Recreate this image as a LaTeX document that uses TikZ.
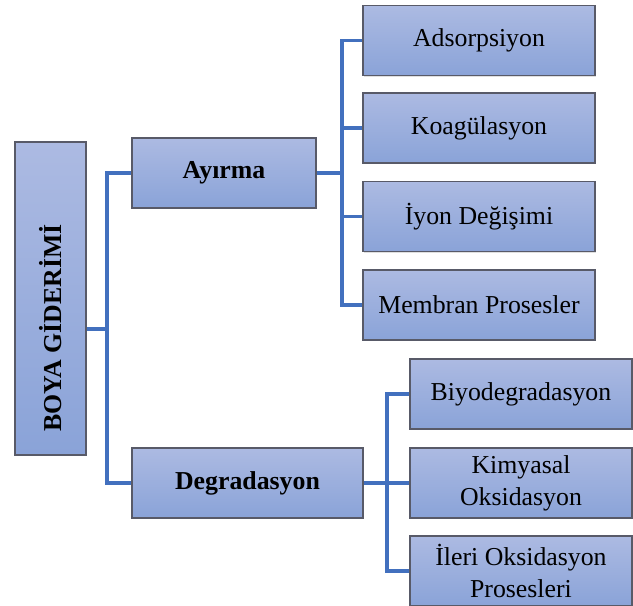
\documentclass[tikz,border=0pt]{standalone}
\usepackage{fontspec}
\setmainfont{Liberation Serif}
\usetikzlibrary{shadows}
\definecolor{boxtop}{RGB}{172,186,226}
\definecolor{boxbot}{RGB}{138,163,216}
\definecolor{edge}{RGB}{88,90,104}
\definecolor{link}{RGB}{66,112,190}

\begin{document}
\begin{tikzpicture}[x=.5pt,y=-.5pt,
  box/.style={draw=edge,line width=.75pt,top color=boxtop,bottom color=boxbot,
    drop shadow={shadow xshift=.7pt,shadow yshift=-.7pt,opacity=.25},
    font=\fontsize{12.9}{16}\selectfont,align=center,inner sep=0pt},
  wire/.style={draw=link,line width=1.6pt}]
\useasboundingbox (0,0) rectangle (633,606);
% main
\node[box,minimum width=35.5pt,minimum height=156.5pt] (boya) at (50.5,298.5) {};
\node[rotate=90,font=\fontsize{12.9}{16}\selectfont\bfseries] (boyatxt) at (50.5,328) {BOYA GİDERİMİ};
\node[box,minimum width=92pt,minimum height=35pt] (ayirma) at (224,173) {\bfseries Ayırma};
\node[box,minimum width=115.5pt,minimum height=35pt] (degr) at (247.5,483) {\bfseries Degradasyon};
% ayirma branch
\node[box,minimum width=116pt,minimum height=35pt] (ads) at (479,40.5) {Adsorpsiyon};
\node[box,minimum width=116pt,minimum height=35pt] (koag) at (479,128) {Koagülasyon};
\node[box,minimum width=116pt,minimum height=35pt] (iyon) at (479,216.5) {İyon Değişimi};
\node[box,minimum width=116pt,minimum height=35pt] (memb) at (479,305) {Membran Prosesler};
% degradasyon branch
\node[box,minimum width=111pt,minimum height=35pt] (biyo) at (521,394) {Biyodegradasyon};
\node[box,minimum width=111pt,minimum height=35pt] (kimy) at (521,483) {Kimyasal\\Oksidasyon};
\node[box,minimum width=111pt,minimum height=35pt] (ileri) at (521,571) {İleri Oksidasyon\\Prosesleri};
% connectors
\coordinate (bj) at (107,329);
\coordinate (aj) at (342,173);
\coordinate (dj) at (387,483);
\draw[wire] (boya.east |- bj) -- (bj);
\draw[wire] (ayirma.west) -| (bj) |- (degr.west);
\draw[wire] (ayirma.east) -- (aj);
\foreach \n in {ads,koag,iyon,memb} {\draw[wire] (aj) |- (\n.west);}
\draw[wire] (degr.east) -- (dj);
\foreach \n in {biyo,kimy,ileri} {\draw[wire] (dj) |- (\n.west);}
\end{tikzpicture}
\end{document}
